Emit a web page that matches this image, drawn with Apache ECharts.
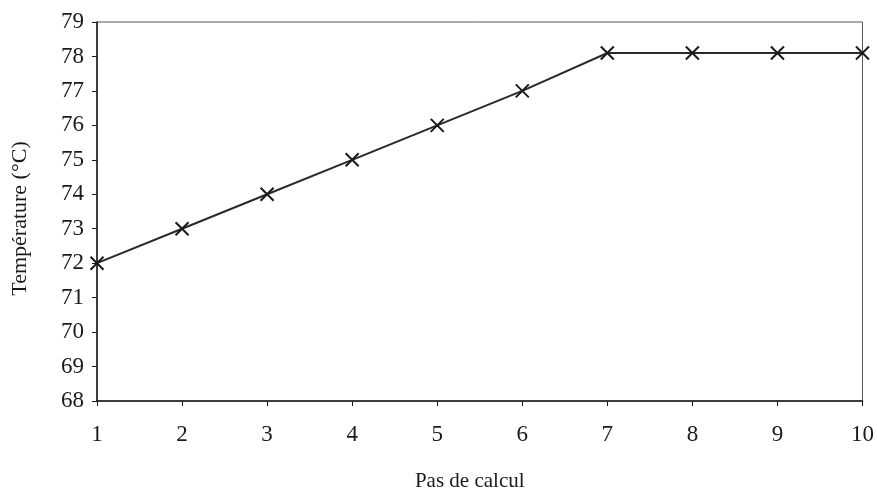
<!DOCTYPE html>
<html>
<head>
<meta charset="utf-8">
<script src="https://cdn.jsdelivr.net/npm/echarts@6/dist/echarts.min.js"></script>
<style>
  html, body { margin: 0; padding: 0; background: #fff; }
  #chart { width: 877px; height: 497px; }
</style>
</head>
<body>
<div id="chart"></div>
<script>
// Calculation steps and the temperature reached at each step
const steps = [1, 2, 3, 4, 5, 6, 7, 8, 9, 10];
const temperatures = [72, 73, 74, 75, 76, 77, 78.1, 78.1, 78.1, 78.1];

const xTitle = 'Pas de calcul';
const yTitle = 'Température (°C)';

const FONT = '"Liberation Serif", "DejaVu Serif", serif';
const INK = '#1a1a1a';

const chart = echarts.init(document.getElementById('chart'), null, { renderer: 'canvas' });

chart.setOption({
  backgroundColor: '#ffffff',
  animation: false,
  grid: {
    left: 97, right: 14, top: 22, bottom: 94,
    show: true, borderColor: '#555', borderWidth: 1, backgroundColor: 'transparent'
  },
  xAxis: {
    type: 'value', min: 1, max: 10, interval: 1,
    name: xTitle, nameLocation: 'middle', nameGap: 70,
    nameTextStyle: { fontFamily: FONT, fontSize: 21, color: INK, padding: [0, 20, 0, 0] },
    axisLine: { show: true, lineStyle: { color: INK, width: 1.5 } },
    axisTick: { show: true, inside: false, length: 5, lineStyle: { color: INK } },
    axisLabel: { fontFamily: FONT, fontSize: 23, color: INK, margin: 22 },
    splitLine: { show: false }
  },
  yAxis: {
    type: 'value', min: 68, max: 79, interval: 1,
    name: yTitle, nameLocation: 'middle', nameGap: 66, nameRotate: 90,
    nameTextStyle: { fontFamily: FONT, fontSize: 22, color: INK, padding: [0, 14, 0, 0] },
    axisLine: { show: true, lineStyle: { color: INK, width: 1.5 } },
    axisTick: { show: true, inside: false, length: 5, lineStyle: { color: INK } },
    axisLabel: { fontFamily: FONT, fontSize: 23, color: INK, margin: 13 },
    splitLine: { show: false }
  },
  series: [{
    type: 'line',
    data: steps.map((s, i) => [s, temperatures[i]]),
    lineStyle: { color: '#2a2a2a', width: 2 },
    symbol: 'path://M0,0L10,10M10,0L0,10',
    symbolSize: 13,
    itemStyle: { color: '#1a1a1a', borderColor: '#1a1a1a', borderWidth: 2 },
    clip: false
  }]
});
</script>
</body>
</html>
